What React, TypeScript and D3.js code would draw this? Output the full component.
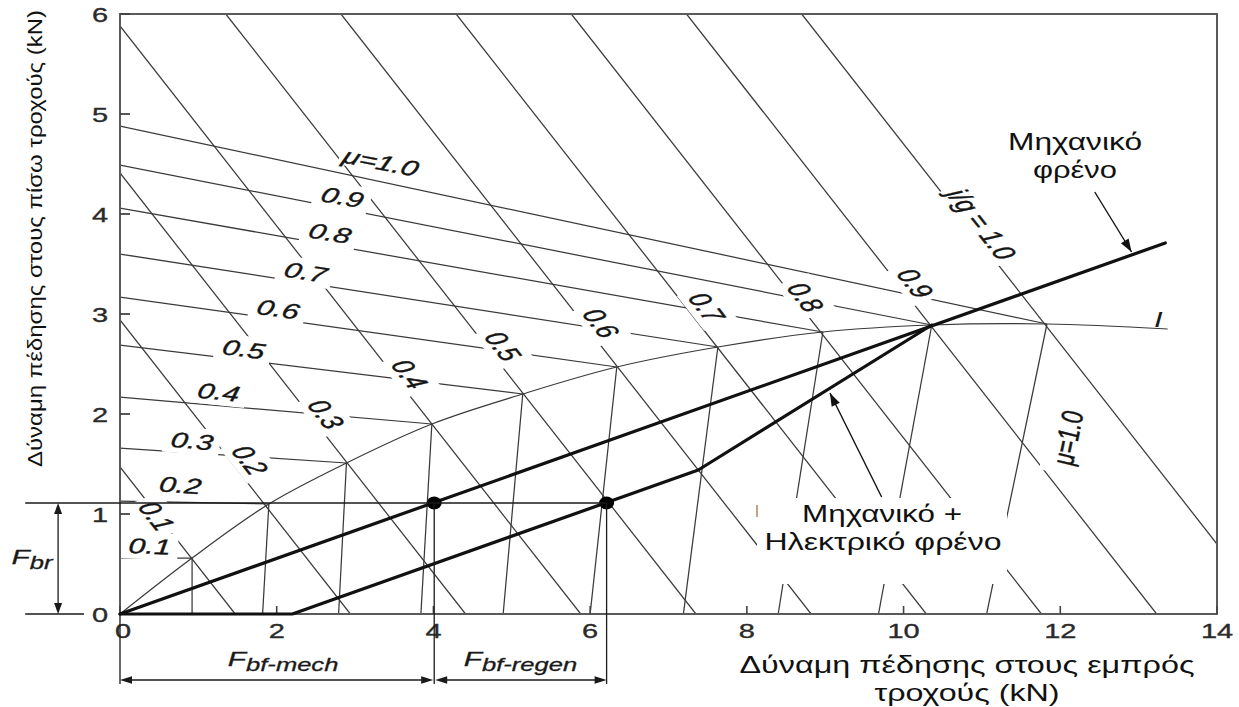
import React from 'react';
import * as d3 from 'd3';

const WIDTH = 1239;
const HEIGHT = 707;

// Axis ticks (kN)
const xTickValues = [0, 2, 4, 6, 8, 10, 12, 14];
const yTickValues = [0, 1, 2, 3, 4, 5, 6];

// Constant-deceleration lines: label and total braking force Ff + Fr (kN)
const decelLabels = ['0.1', '0.2', '0.3', '0.4', '0.5', '0.6', '0.7', '0.8', '0.9', 'j/g = 1.0'];
const decelTotals = [1.47, 2.94, 4.41, 5.88, 7.35, 8.82, 10.29, 11.76, 13.23, 14.7];

// Adhesion coefficient levels
const muLabels = ['0.1', '0.2', '0.3', '0.4', '0.5', '0.6', '0.7', '0.8', '0.9', 'μ=1.0'];
// r-lines (rear wheels lock first): rear force where the front force is zero
const rLineRearStart = [0.56, 1.13, 1.66, 2.17, 2.69, 3.17, 3.6, 4.06, 4.49, 4.88];
// f-lines (front wheels lock first): front force where the rear force is zero
const fLineFrontStart = [0.92, 1.82, 2.79, 3.84, 4.89, 6.0, 7.19, 8.4, 9.68, 11.06];

// Ideal braking force distribution curve I (front, rear)
const idealFront = [0, 0.92, 1.9, 2.89, 3.98, 5.14, 6.34, 7.63, 8.97, 10.36, 11.83, 13.37];
const idealRear = [0, 0.56, 1.1, 1.51, 1.9, 2.2, 2.47, 2.67, 2.82, 2.89, 2.9, 2.85];

// Mechanical brake distribution line
const mechFront = [0, 13.34];
const mechRear = [0, 3.71];
// Mechanical + electric (regenerative) brake distribution
const comboFront = [0, 2.2, 7.38, 10.36];
const comboRear = [0, 0, 1.44, 2.89];

// Operating points at the required rear braking force F_br
const opFront = [4.01, 6.21];
const opRear = [1.11, 1.11];

// Label anchors (data units)
const decelLabelFront = [0.47, 1.66, 2.63, 3.7, 4.89, 6.14, 7.49, 8.75, 10.15, 11.0];
const decelLabelRear = [0.98, 1.54, 2.0, 2.4, 2.68, 2.91, 3.07, 3.17, 3.31, 3.9];
const rLabelFront = [0.38, 0.77, 0.92, 1.26, 1.58, 2.02, 2.37, 2.68, 2.84, 3.33];
const rLabelRear = [0.68, 1.29, 1.73, 2.22, 2.65, 3.05, 3.42, 3.81, 4.17, 4.52];
const rLabelAngle = [2, 4, 5, 6, 7, 8, 9, 9, 10, 11];
const fLabelFront = 12.09;
const fLabelRear = 1.76;

const NUM_FONT = "'Liberation Sans', Arial, sans-serif";
const GREEK_FONT = "'Liberation Sans', Arial, sans-serif";
const SX = 1.42;
const THIN = '#3a3a3a';

const CHAR_W: Record<string, number> = {
  '.': 0.278, '=': 0.584, 'μ': 0.576, 'j': 0.222, '/': 0.278, ' ': 0.278, 'g': 0.556,
};
const estWidth = (s: string, size: number) =>
  s.split('').reduce((a, c) => a + (CHAR_W[c] ?? 0.556), 0) * size;

// Angle before horizontal stretch so the stretched text runs at screenDeg
const preStretchAngle = (screenDeg: number, sx: number) => {
  const t = (screenDeg * Math.PI) / 180;
  return (Math.atan2(sx * Math.sin(t), Math.cos(t)) * 180) / Math.PI;
};

function NumLabel(props: { px: number; py: number; angle: number; text: string; size?: number; pad?: number }) {
  const { px, py, angle, text, size = 21.5, pad = 4.5 } = props;
  const w = estWidth(text, size);
  const h = size * 0.76;
  return (
    <g transform={`translate(${px},${py}) scale(${SX},1) rotate(${preStretchAngle(angle, SX)})`}>
      <rect x={-w / 2 - pad} y={-h / 2 - pad} width={w + 2 * pad} height={h + 2 * pad} fill="#fff" />
      <text
        textAnchor="middle"
        dy="0.36em"
        fontSize={size}
        fontStyle="italic"
        fontFamily={NUM_FONT}
        fill="#151515"
        stroke="#151515"
        strokeWidth={0.35}
      >
        {text}
      </text>
    </g>
  );
}

function arrowHead(tx: number, ty: number, fx: number, fy: number, len = 11, half = 4) {
  const dx = tx - fx;
  const dy = ty - fy;
  const d = Math.hypot(dx, dy) || 1;
  const ux = dx / d;
  const uy = dy / d;
  const bx = tx - ux * len;
  const by = ty - uy * len;
  return `${tx},${ty} ${bx - uy * half},${by + ux * half} ${bx + uy * half},${by - ux * half}`;
}

function SubLabel(props: { px: number; py: number; sub: string }) {
  const { px, py, sub } = props;
  return (
    <g transform={`translate(${px},${py}) scale(${SX},1)`}>
      <text fontFamily={NUM_FONT} fontStyle="italic" fill="#1a1a1a" textAnchor="middle" stroke="#1a1a1a" strokeWidth={0.3}>
        <tspan fontSize={21}>F</tspan>
        <tspan fontSize={18} dy={5}>{sub}</tspan>
      </text>
    </g>
  );
}

export default function App() {
  const x = d3.scaleLinear().domain([0, 14]).range([120, 1217]);
  const y = d3.scaleLinear().domain([0, 6]).range([614, 14]);
  const line = d3
    .line<[number, number]>()
    .x((d) => x(d[0]))
    .y((d) => y(d[1]));
  const smooth = d3
    .line<[number, number]>()
    .x((d) => x(d[0]))
    .y((d) => y(d[1]))
    .curve(d3.curveCatmullRom.alpha(0.5));
  const zip = (a: number[], b: number[]) => a.map((v, i) => [v, b[i]] as [number, number]);

  const decelPaths = decelTotals.map((c) => {
    const p0: [number, number] = c <= 6 ? [0, c] : [c - 6, 6];
    const p1: [number, number] = c <= 14 ? [c, 0] : [14, c - 14];
    return line([p0, p1]) as string;
  });
  const rPaths = muLabels.map(
    (_, i) => line([[0, rLineRearStart[i]], [idealFront[i + 1], idealRear[i + 1]]]) as string
  );
  const fPaths = muLabels.map(
    (_, i) => line([[fLineFrontStart[i], 0], [idealFront[i + 1], idealRear[i + 1]]]) as string
  );
  const idealPath = smooth(zip(idealFront, idealRear)) as string;
  const mechPath = line(zip(mechFront, mechRear)) as string;
  const comboPath = line(zip(comboFront, comboRear)) as string;

  const decelAngle = (Math.atan2(y(0) - y(1), x(1) - x(0)) * 180) / Math.PI;
  const fAngle =
    (Math.atan2(
      y(idealRear[10]) - y(0),
      x(idealFront[10]) - x(fLineFrontStart[9])
    ) *
      180) /
    Math.PI;

  // dimension geometry (data units below / left of the axes)
  const dimY = -0.66;
  const extY = -0.7;
  const fbrX = -0.79;
  const extX = -1.21;

  const mechArrowFrom: [number, number] = [12.44, 4.22];
  const mechArrowTo: [number, number] = [12.91, 3.62];
  const comboArrowFrom: [number, number] = [9.72, 1.17];
  const comboArrowTo: [number, number] = [9.06, 2.21];

  const dimStroke = '#1a1a1a';

  return (
    <svg width={WIDTH} height={HEIGHT} style={{ display: 'block', position: 'absolute', left: 0, top: 0, background: '#fff' }}>
      <defs>
        <clipPath id="plot-clip">
          <rect x={x(0)} y={y(6)} width={x(14) - x(0)} height={y(0) - y(6)} />
        </clipPath>
      </defs>
      <rect width={WIDTH} height={HEIGHT} fill="#fff" />

      {/* thin families: deceleration, r-lines, f-lines, ideal curve */}
      <g clipPath="url(#plot-clip)" fill="none" stroke={THIN} strokeWidth={1.25}>
        {decelPaths.map((d, i) => (
          <path key={`dc${i}`} d={d} />
        ))}
        {rPaths.map((d, i) => (
          <path key={`r${i}`} d={d} />
        ))}
        {fPaths.map((d, i) => (
          <path key={`f${i}`} d={d} />
        ))}
        <path d={idealPath} />
      </g>

      {/* labels of the thin families */}
      {decelLabels.map((t, i) => (
        <NumLabel
          key={`dl${i}`}
          px={x(decelLabelFront[i])}
          py={y(decelLabelRear[i])}
          angle={decelAngle}
          text={t}
          pad={i === 9 ? 4 : 5}
        />
      ))}
      {muLabels.map((t, i) => (
        <NumLabel
          key={`rl${i}`}
          px={x(rLabelFront[i])}
          py={y(rLabelRear[i])}
          angle={rLabelAngle[i]}
          text={t}
          pad={i === 9 ? 2 : 5}
        />
      ))}
      <NumLabel px={x(fLabelFront)} py={y(fLabelRear)} angle={fAngle} text={muLabels[9]} pad={7} />

      {/* annotation box for the combined braking label */}
      <rect x={757} y={498} width={250} height={86} fill="#fff" />
      <line x1={757} y1={505} x2={757} y2={517} stroke="#b88a66" strokeWidth={1.6} />

      {/* plot frame */}
      <rect
        x={x(0)}
        y={y(6)}
        width={x(14) - x(0)}
        height={y(0) - y(6)}
        fill="none"
        stroke="#5a5a5a"
        strokeWidth={2}
      />
      {xTickValues.map((v) => (
        <line key={`xt${v}`} x1={x(v)} x2={x(v)} y1={y(0)} y2={y(0) - 8} stroke="#444" strokeWidth={1.6} />
      ))}
      {yTickValues.map((v) => (
        <line key={`yt${v}`} x1={x(0)} x2={x(0) + 10} y1={y(v)} y2={y(v)} stroke="#444" strokeWidth={1.8} />
      ))}
      {xTickValues.map((v) => (
        <g key={`xl${v}`} transform={`translate(${x(v) + (v === 0 ? 3 : 0)},${y(0) + 24}) scale(1.38,1)`}>
          <text textAnchor="middle" fontSize={21} fontFamily={NUM_FONT} fill="#2a2a2a" stroke="#2a2a2a" strokeWidth={0.35}>
            {v}
          </text>
        </g>
      ))}
      {yTickValues.map((v) => (
        <g key={`yl${v}`} transform={`translate(${x(0) - 12},${y(v) + 8}) scale(1.38,1)`}>
          <text textAnchor="end" fontSize={21} fontFamily={NUM_FONT} fill="#2a2a2a" stroke="#2a2a2a" strokeWidth={0.35}>
            {v}
          </text>
        </g>
      ))}

      {/* ideal curve label */}
      <g transform={`translate(${x(13.25)},${y(2.87)}) scale(${SX},1)`}>
        <text textAnchor="middle" fontSize={22} fontStyle="italic" fontFamily={NUM_FONT} fill="#1a1a1a">
          I
        </text>
      </g>

      {/* braking distribution lines */}
      <g fill="none" stroke="#111" strokeWidth={3.2} strokeLinejoin="round" strokeLinecap="round">
        <path d={mechPath} />
        <path d={comboPath} />
      </g>
      {opFront.map((v, i) => (
        <ellipse key={`op${i}`} cx={x(v)} cy={y(opRear[i])} rx={7.5} ry={6.5} fill="#000" />
      ))}

      {/* pointer arrows */}
      <line
        x1={x(mechArrowFrom[0])}
        y1={y(mechArrowFrom[1])}
        x2={x(mechArrowTo[0])}
        y2={y(mechArrowTo[1])}
        stroke="#111"
        strokeWidth={1.4}
      />
      <polygon
        points={arrowHead(x(mechArrowTo[0]), y(mechArrowTo[1]), x(mechArrowFrom[0]), y(mechArrowFrom[1]), 13, 4.5)}
        fill="#111"
      />
      <line
        x1={x(comboArrowFrom[0])}
        y1={y(comboArrowFrom[1])}
        x2={x(comboArrowTo[0])}
        y2={y(comboArrowTo[1])}
        stroke="#111"
        strokeWidth={1.4}
      />
      <polygon
        points={arrowHead(x(comboArrowTo[0]), y(comboArrowTo[1]), x(comboArrowFrom[0]), y(comboArrowFrom[1]), 13, 4.5)}
        fill="#111"
      />

      {/* dimension lines: F_br */}
      <g stroke={dimStroke} strokeWidth={1.3}>
        <line x1={x(extX)} x2={x(opFront[1])} y1={y(opRear[0])} y2={y(opRear[0])} />
        <line x1={x(extX)} x2={x(0) - 36} y1={y(0)} y2={y(0)} />
        <line x1={x(fbrX)} x2={x(fbrX)} y1={y(opRear[0]) + 10} y2={y(0) - 10} />
      </g>
      <polygon points={arrowHead(x(fbrX), y(opRear[0]), x(fbrX), y(0), 11, 4)} fill={dimStroke} />
      <polygon points={arrowHead(x(fbrX), y(0), x(fbrX), y(opRear[0]), 11, 4)} fill={dimStroke} />

      {/* dimension lines: F_bf-mech and F_bf-regen */}
      <g stroke={dimStroke} strokeWidth={1.3}>
        <line x1={x(0)} x2={x(0)} y1={y(0)} y2={y(extY)} />
        <line x1={x(opFront[0])} x2={x(opFront[0])} y1={y(opRear[0])} y2={y(extY)} />
        <line x1={x(opFront[1])} x2={x(opFront[1])} y1={y(opRear[1])} y2={y(extY)} />
        <line x1={x(0) + 8} x2={x(opFront[0]) - 8} y1={y(dimY)} y2={y(dimY)} />
        <line x1={x(opFront[0]) + 8} x2={x(opFront[1]) - 8} y1={y(dimY)} y2={y(dimY)} />
      </g>
      <polygon points={arrowHead(x(0), y(dimY), x(opFront[0]), y(dimY), 12, 3.8)} fill={dimStroke} />
      <polygon points={arrowHead(x(opFront[0]) - 1, y(dimY), x(0), y(dimY), 12, 3.8)} fill={dimStroke} />
      <polygon points={arrowHead(x(opFront[0]) + 1, y(dimY), x(opFront[1]), y(dimY), 12, 3.8)} fill={dimStroke} />
      <polygon points={arrowHead(x(opFront[1]), y(dimY), x(opFront[0]), y(dimY), 12, 3.8)} fill={dimStroke} />

      <SubLabel px={32} py={y(0.5)} sub="br" />
      <SubLabel px={(x(0) + x(opFront[0])) / 2 + 6} py={y(dimY) - 14} sub="bf-mech" />
      <SubLabel px={(x(opFront[0]) + x(opFront[1])) / 2} py={y(dimY) - 14} sub="bf-regen" />

      {/* annotations */}
      <g fontFamily={GREEK_FONT} fill="#111" fontSize={24} textAnchor="middle">
        <text x={1075} y={150} textLength={134} lengthAdjust="spacingAndGlyphs">
          Μηχανικό
        </text>
        <text x={1075} y={178} textLength={84} lengthAdjust="spacingAndGlyphs">
          φρένο
        </text>
        <text x={882} y={522} textLength={160} lengthAdjust="spacingAndGlyphs">
          Μηχανικό +
        </text>
        <text x={883} y={550} textLength={237} lengthAdjust="spacingAndGlyphs">
          Ηλεκτρικό φρένο
        </text>
      </g>

      {/* axis titles */}
      <g fontFamily={GREEK_FONT} fill="#111" textAnchor="middle">
        <text x={967} y={673} fontSize={24} textLength={455} lengthAdjust="spacingAndGlyphs">
          Δύναμη πέδησης στους εμπρός
        </text>
        <text x={967} y={701} fontSize={24} textLength={185} lengthAdjust="spacingAndGlyphs">
          τροχούς (kN)
        </text>
        <text
          transform="translate(42,238.5) rotate(-90)"
          fontSize={21}
          textLength={457}
          lengthAdjust="spacingAndGlyphs"
        >
          Δύναμη πέδησης στους πίσω τροχούς (kN)
        </text>
      </g>
    </svg>
  );
}
